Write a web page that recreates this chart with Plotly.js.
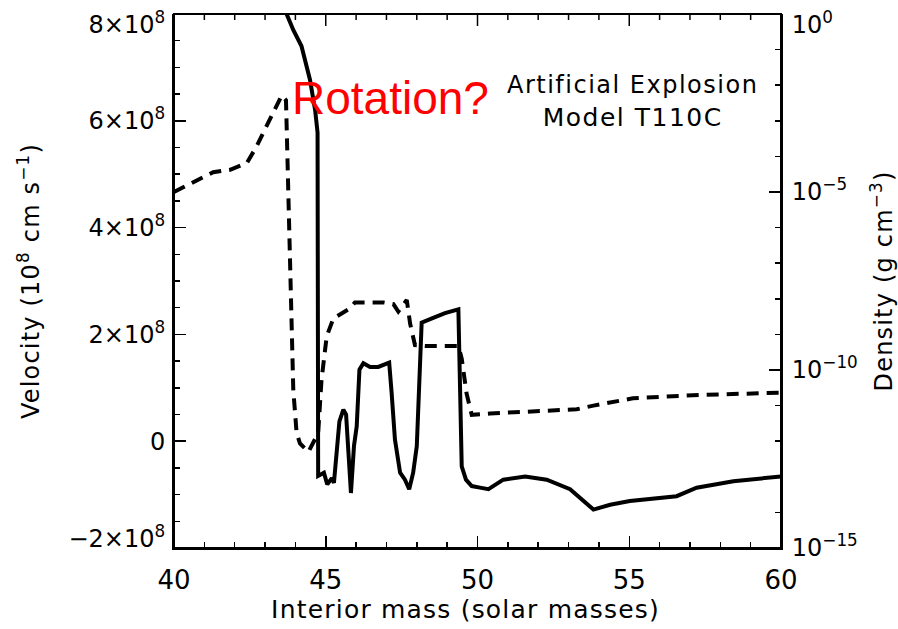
<!DOCTYPE html>
<html>
<head>
<meta charset="utf-8">
<script src="https://cdn.plot.ly/plotly-3.0.1.min.js"></script>
<style>
html,body{margin:0;padding:0;background:#fff;}
#chart{width:898px;height:629px;}
#chart .xtitle, #chart .ytitle, #chart .y2title {letter-spacing: 1.2px;}
#chart .annotation.spaced text {letter-spacing: 1.5px;}
</style>
</head>
<body>
<div id="chart"></div>
<script>
// Interior mass (solar masses) and velocity (cm/s) — solid line
const massVel = [43.71, 43.93, 44.2, 44.48, 44.65, 44.73, 44.75, 44.94, 45.05, 45.20, 45.27, 45.45, 45.58, 45.67, 45.83, 45.93, 46.02, 46.11, 46.24, 46.46, 46.73, 47.09, 47.17, 47.28, 47.45, 47.61, 47.75, 47.88, 48.0, 48.16, 48.54, 48.93, 49.37, 49.42, 49.48, 49.62, 49.81, 50.08, 50.36, 50.85, 51.57, 52.28, 53.05, 53.82, 54.37, 55.02, 56.56, 57.22, 58.43, 60.0];
const velocity = [8.0e8, 7.7e8, 7.4e8, 6.77e8, 6.2e8, 5.78e8, -0.65e8, -0.59e8, -0.81e8, -0.69e8, -0.78e8, 0.37e8, 0.59e8, 0.50e8, -0.97e8, -0.09e8, 0.28e8, 1.34e8, 1.46e8, 1.39e8, 1.39e8, 1.47e8, 0.91e8, 0.03e8, -0.59e8, -0.72e8, -0.9e8, -0.59e8, -0.09e8, 2.22e8, 2.31e8, 2.4e8, 2.47e8, 1.16e8, -0.47e8, -0.72e8, -0.84e8, -0.87e8, -0.90e8, -0.72e8, -0.66e8, -0.72e8, -0.90e8, -1.28e8, -1.19e8, -1.12e8, -1.03e8, -0.87e8, -0.75e8, -0.66e8];

// Interior mass and density (g/cm^3) — dashed line
const massDen = [40.0, 41.29, 41.85, 42.4, 42.72, 43.05, 43.27, 43.55, 43.69, 43.82, 43.93, 44.04, 44.15, 44.43, 44.75, 44.86, 45.03, 45.25, 45.80, 45.96, 46.90, 47.23, 47.39, 47.67, 47.78, 47.94, 48.33, 49.37, 49.48, 49.64, 49.81, 50.41, 51.95, 53.27, 53.82, 54.70, 55.12, 57.33, 60.0];
const density = [1.0e-5, 3.6e-5, 4.2e-5, 6.5e-5, 1.9e-4, 6.8e-4, 1.8e-3, 5.2e-3, 3.8e-3, 3.4e-8, 2.8e-11, 1.7e-12, 8.7e-13, 5.0e-13, 1.7e-12, 5.2e-11, 8.7e-10, 2.8e-9, 5.4e-9, 7.9e-9, 7.9e-9, 7.1e-9, 4.4e-9, 9.3e-9, 2.0e-9, 5.0e-10, 4.7e-10, 4.7e-10, 2.1e-10, 2.2e-11, 5.5e-12, 6.0e-12, 6.8e-12, 7.9e-12, 1.0e-11, 1.4e-11, 1.6e-11, 2.0e-11, 2.3e-11];

// Tick labels
const velTickVals = [-2e8, 0, 2e8, 4e8, 6e8, 8e8];
const velTickText = ['\u22122\u00d710<sup>8</sup>', '0', '2\u00d710<sup>8</sup>', '4\u00d710<sup>8</sup>', '6\u00d710<sup>8</sup>', '8\u00d710<sup>8</sup>'];
const denTickVals = [1e-15, 1e-10, 1e-5, 1];
const denTickText = ['10<sup>\u221215</sup>', '10<sup>\u221210</sup>', '10<sup>\u22125</sup>', '10<sup>0</sup>'];
const massTickVals = [40, 45, 50, 55, 60];
const massTickText = ['40', '45', '50', '55', '60'];

const FONT = 'DejaVu Sans, Verdana, sans-serif';
const RFONT = 'Liberation Sans, Arial, sans-serif';

const traces = [
  {
    x: massVel, y: velocity, type: 'scatter', mode: 'lines', xaxis: 'x', yaxis: 'y',
    line: {color: '#000', width: 4}, showlegend: false, hoverinfo: 'skip'
  },
  {
    x: massDen, y: density, type: 'scatter', mode: 'lines', xaxis: 'x', yaxis: 'y2',
    line: {color: '#000', width: 4, dash: '12px,8px'}, showlegend: false, hoverinfo: 'skip'
  }
];

const tickStyle = {ticks: 'inside', ticklen: 12, tickwidth: 1.5, tickcolor: '#000'};
const minorStyle = {ticks: 'inside', ticklen: 6, tickwidth: 1.5, tickcolor: '#000', showgrid: false};

// Frame and top (mirrored) mass-axis ticks, built from the tick arrays
const PLOT_H = 629 - 14 - 81;
const shapes = [
  {type: 'rect', xref: 'paper', yref: 'paper', x0: 0, x1: 1, y0: 0, y1: 1,
   line: {color: '#000', width: 2}, fillcolor: 'rgba(0,0,0,0)', layer: 'above'}
];
for (let m = massTickVals[0]; m <= massTickVals[massTickVals.length - 1]; m += 1) {
  const major = massTickVals.indexOf(m) >= 0;
  const len = (major ? 12 : 6) / PLOT_H;
  shapes.push({type: 'line', xref: 'x', yref: 'paper', x0: m, x1: m, y0: 1, y1: 1 - len,
               line: {color: '#000', width: 1.5}, layer: 'above'});
}

const layout = {
  width: 898, height: 629,
  margin: {l: 174, r: 117, t: 14, b: 81, pad: 0},
  paper_bgcolor: '#fff', plot_bgcolor: '#fff',
  font: {family: FONT, size: 24, color: '#000'},
  showlegend: false,
  shapes: shapes,
  xaxis: Object.assign({
    range: [40, 60], tickmode: 'array', tickvals: massTickVals, ticktext: massTickText,
    showline: true, linecolor: '#000', linewidth: 2,
    showgrid: false, zeroline: false, ticklabeloverflow: 'allow', ticklabelstandoff: 8,
    tickfont: {family: FONT, size: 26, color: '#000'},
    minor: Object.assign({tickmode: 'linear', tick0: 40, dtick: 1}, minorStyle),
    title: {text: 'Interior mass (solar masses)', font: {family: FONT, size: 25, color: '#000'}, standoff: 4}
  }, tickStyle),
  yaxis: Object.assign({
    range: [-2e8, 8e8], tickmode: 'array', tickvals: velTickVals, ticktext: velTickText,
    showline: true, linecolor: '#000', linewidth: 2,
    showgrid: false, zeroline: false, ticklabeloverflow: 'allow', ticklabelstandoff: 2,
    tickfont: {family: FONT, size: 24, color: '#000'},
    minor: Object.assign({tickmode: 'linear', tick0: 0, dtick: 5e7}, minorStyle),
    title: {text: 'Velocity (10<sup>8</sup> cm s<sup>\u22121</sup>)', font: {family: FONT, size: 24, color: '#000'}, standoff: 22}
  }, tickStyle),
  yaxis2: Object.assign({
    type: 'log', range: [-15, 0], overlaying: 'y', side: 'right', anchor: 'x',
    tickmode: 'array', tickvals: denTickVals, ticktext: denTickText,
    showline: true, linecolor: '#000', linewidth: 2,
    showgrid: false, zeroline: false, ticklabeloverflow: 'allow', ticklabelstandoff: 4,
    tickfont: {family: FONT, size: 24, color: '#000'},
    minor: Object.assign({tickmode: 'linear', tick0: 0, dtick: 1}, minorStyle),
    title: {text: 'Density (g cm<sup>\u22123</sup>)', font: {family: FONT, size: 24, color: '#000'}, standoff: 20}
  }, tickStyle),
  annotations: [
    {text: 'Rotation?', xref: 'paper', yref: 'paper', x: 0.356, y: 0.843, xanchor: 'center', yanchor: 'middle',
     showarrow: false, font: {family: RFONT, size: 46, color: '#ff0000'}},
    {text: 'Artificial Explosion', xref: 'paper', yref: 'paper', x: 0.755, y: 0.867, xanchor: 'center', yanchor: 'middle',
     showarrow: false, font: {family: FONT, size: 24, color: '#000'}},
    {text: 'Model T110C', xref: 'paper', yref: 'paper', x: 0.755, y: 0.807, xanchor: 'center', yanchor: 'middle',
     showarrow: false, font: {family: FONT, size: 25, color: '#000'}}
  ]
};

Plotly.newPlot('chart', traces, layout, {displayModeBar: false, staticPlot: true}).then(function () {
  const root = document.getElementById('chart');
  root.querySelectorAll('.annotation').forEach(function (g, i) {
    if (i > 0) g.classList.add('spaced');
  });
  // Keep the end tick labels inside the frame, as in the original figure
  root.querySelectorAll('g.ytick, g.y2tick').forEach(function (g) {
    const d = g.__data__;
    if (!d) return;
    const isY2 = g.classList.contains('y2tick');
    const v = d.x;
    if ((!isY2 && v === 8e8) || (isY2 && v === 0)) g.setAttribute('transform', 'translate(0,11)');
    if ((!isY2 && v === -2e8) || (isY2 && v === -15)) g.setAttribute('transform', 'translate(0,-9)');
  });
  const xt = root.querySelector('.xtitle');
  if (xt) xt.setAttribute('transform', 'translate(-12,0)');
});
</script>
</body>
</html>
